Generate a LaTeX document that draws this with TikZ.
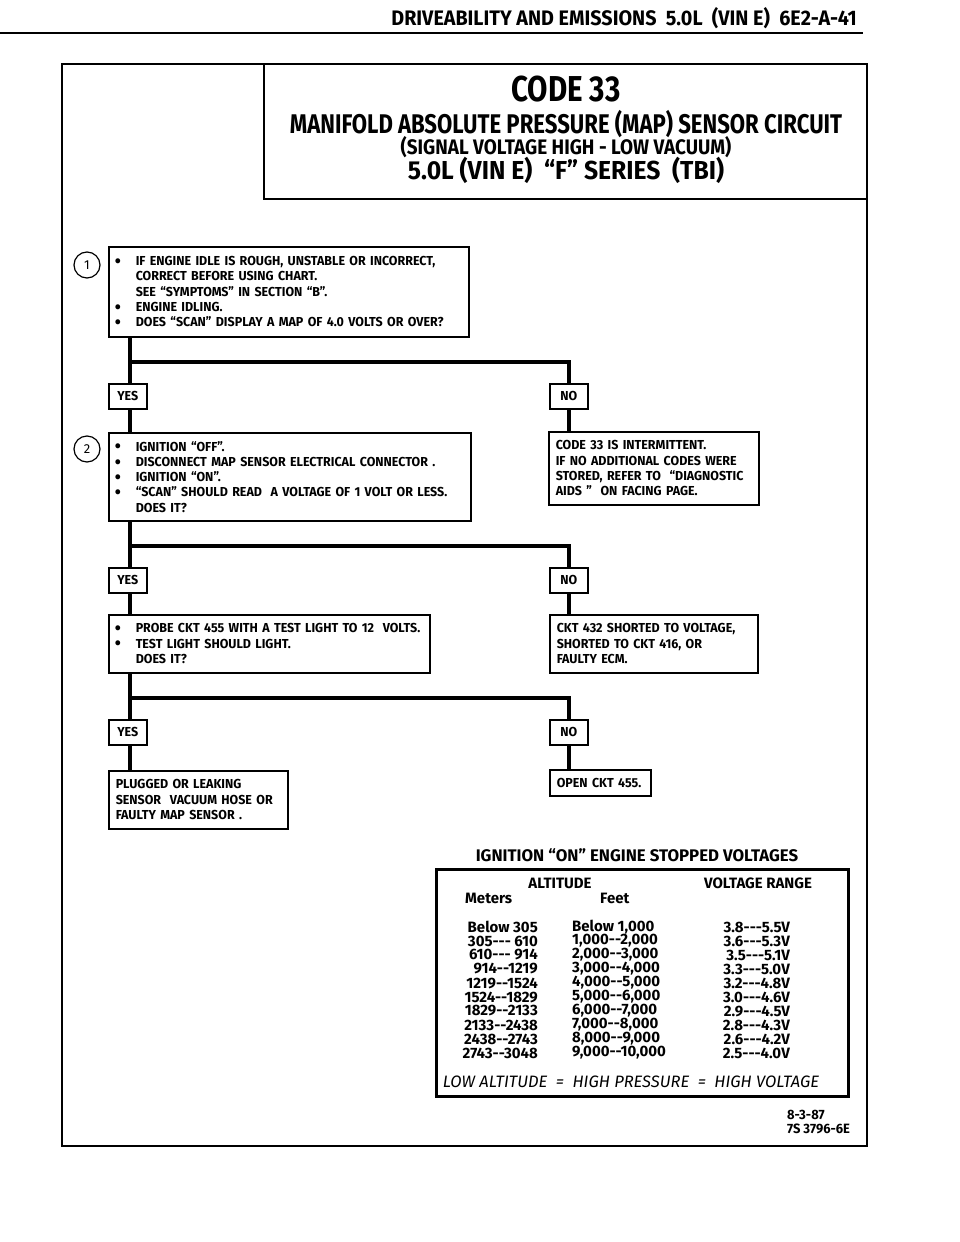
\documentclass[tikz,border=0pt]{standalone}
\usepackage{fontspec}
\setmainfont{Fira Sans}
\newfontfamily\condf{Fira Sans}[FakeStretch=0.82]
\newfontfamily\sigf{Fira Sans}[FakeStretch=0.9]
\newfontfamily\vinf{Fira Sans}[FakeStretch=0.95]
\newfontfamily\hdrf{Fira Sans}[FakeStretch=0.94]
\newfontfamily\semif{Fira Sans}[FakeStretch=0.96]
\newfontfamily\tabf{Fira Sans}
\newcommand\bul{\makebox[21pt][l]{\smash{\raisebox{-0.13em}{\scalebox{1.4}{\textbullet}}}}}
\newcommand\ind{\hspace*{21pt}}
\newcommand\dd{-\kern0pt-}
\newcommand\ddd{-\kern0pt-\kern0pt-}
\tikzset{
  frame/.style={line width=2.4pt},
  box/.style={draw, line width=1.5pt, anchor=north west, inner xsep=6pt, inner ysep=0pt, align=left,
    font=\semif\bfseries\fontsize{13}{15.3}\selectfont},
  lbl/.style={draw, line width=1.5pt, anchor=north west, minimum width=38pt, minimum height=25pt, inner sep=0pt,
    font=\semif\bfseries\fontsize{13}{14}\selectfont},
  trunk/.style={line width=3.8pt},
  num/.style={draw, circle, line width=1.2pt, minimum size=26pt, inner sep=0pt, font=\fontsize{13}{14}\selectfont},
  ttl/.style={anchor=center, inner sep=0pt},
  tb/.style={inner sep=0pt, font=\tabf\bfseries\fontsize{15}{15}\selectfont},
}
\begin{document}
\begin{tikzpicture}[x=1pt,y=-1pt]
\useasboundingbox[fill=white] (0,0) rectangle (960,1242);
% header
\node[anchor=base east, inner sep=0pt, font=\hdrf\bfseries\fontsize{21}{22}\selectfont] (hdr) at (857,25) {DRIVEABILITY AND EMISSIONS\ \ 5.0L\ \ (VIN E)\ \ 6E2-A-41};
\draw[line width=2.4pt] (0,33) -- (863,33);
% frame and title box
\draw[frame] (62,64) rectangle (867,1146);
\draw[line width=1.6pt] (264,64) -- (264,199) -- (867,199);
\node[ttl, font=\condf\bfseries\fontsize{36}{40}\selectfont] (t1) at (566,89) {CODE 33};
\node[ttl, font=\condf\bfseries\fontsize{27}{29}\selectfont] (t2) at (566,124) {MANIFOLD ABSOLUTE PRESSURE (MAP) SENSOR CIRCUIT};
\node[ttl, font=\sigf\bfseries\fontsize{21}{22}\selectfont] (t3) at (566,147) {(SIGNAL VOLTAGE HIGH - LOW VACUUM)};
\node[ttl, font=\vinf\bfseries\fontsize{26}{28}\selectfont] (t4) at (566,170) {5.0L (VIN E)\ \ “F” SERIES\ \ (TBI)};
% step 1
\node[num] (c1) at (87,265) {1};
\node[box, minimum width=360pt, minimum height=90pt, text width=348pt] (s1) at (108,246) {%
\bul IF ENGINE IDLE IS ROUGH, UNSTABLE OR INCORRECT,\\
\ind CORRECT BEFORE USING CHART.\\
\ind SEE “SYMPTOMS” IN SECTION “B”.\\
\bul ENGINE IDLING.\\
\bul DOES “SCAN” DISPLAY A MAP OF 4.0 VOLTS OR OVER?};
\coordinate (j1) at (130,362);
\node[lbl] (y1) at (108,383) {YES};
\node[lbl] (n1) at (549,383) {NO};
% step 2
\node[num] (c2) at (87,449) {2};
\node[box, minimum width=362pt, minimum height=88pt, text width=350pt] (s2) at (108,432) {%
\bul IGNITION “OFF”.\\
\bul DISCONNECT MAP SENSOR ELECTRICAL CONNECTOR .\\
\bul IGNITION “ON”.\\
\bul “SCAN” SHOULD READ\ \ A VOLTAGE OF 1 VOLT OR LESS.\\
\ind DOES IT?};
\node[box, inner xsep=7pt, minimum width=210pt, minimum height=73pt, text width=196pt] (r1) at (548,431) {%
CODE 33 IS INTERMITTENT.\\
IF NO ADDITIONAL CODES WERE\\
STORED, REFER TO\ \ “DIAGNOSTIC\\
AIDS ”\ \ ON FACING PAGE.};
\coordinate (j2) at (130,546);
\node[lbl] (y2) at (108,567) {YES};
\node[lbl] (n2) at (549,567) {NO};
% step 3
\node[box, minimum width=321pt, minimum height=58pt, text width=309pt] (s3) at (108,614) {%
\bul PROBE CKT 455 WITH A TEST LIGHT TO 12\ \ VOLTS.\\
\bul TEST LIGHT SHOULD LIGHT.\\
\ind DOES IT?};
\node[box, inner xsep=7pt, minimum width=208pt, minimum height=58pt, text width=194pt] (r2) at (549,614) {%
CKT 432 SHORTED TO VOLTAGE,\\
SHORTED TO CKT 416, OR\\
FAULTY ECM.};
\coordinate (j3) at (130,698);
\node[lbl] (y3) at (108,719) {YES};
\node[lbl] (n3) at (549,719) {NO};
% results
\node[box, inner xsep=7pt, minimum width=179pt, minimum height=58pt, text width=165pt] (r3) at (108,770) {%
PLUGGED OR LEAKING\\
SENSOR\ \ VACUUM HOSE OR\\
FAULTY MAP SENSOR .};
\node[box, inner xsep=7pt, minimum width=101pt, minimum height=26pt, text width=87pt] (r4) at (549,769) {OPEN CKT 455.};
% connectors
\draw[trunk] (s1.south -| j1) -- (j1) -- (j1 -| n1) -- (n1.north);
\draw[trunk] (j1) -- (y1.north -| j1);
\draw[trunk] (y1.south -| j1) -- (s2.north -| j1);
\draw[trunk] (n1.south) -- (r1.north -| n1);
\draw[trunk] (s2.south -| j2) -- (j2) -- (j2 -| n2) -- (n2.north);
\draw[trunk] (j2) -- (y2.north -| j2);
\draw[trunk] (y2.south -| j2) -- (s3.north -| j2);
\draw[trunk] (n2.south) -- (r2.north -| n2);
\draw[trunk] (s3.south -| j3) -- (j3) -- (j3 -| n3) -- (n3.north);
\draw[trunk] (j3) -- (y3.north -| j3);
\draw[trunk] (y3.south -| j3) -- (r3.north -| j3);
\draw[trunk] (n3.south) -- (r4.north -| n3);
% table
\node[tb, font=\tabf\bfseries\fontsize{16.8}{18}\selectfont] (tt) at (637,855) {IGNITION “ON” ENGINE STOPPED VOLTAGES};
\node[draw, line width=2.6pt, anchor=north west, minimum width=412pt, minimum height=227pt, inner sep=0pt] (tbl) at (435,868) {};
\node[tb] (h1) at (560,883) {ALTITUDE};
\node[tb] (h2) at (758,883) {VOLTAGE RANGE};
\node[tb, anchor=west] (h3) at (465,898) {Meters};
\node[tb, anchor=west] (h4) at (600,898) {Feet};
\foreach \m/\f/\v [count=\i from 0] in {
  {Below 305}/{Below 1,000}/{3.8\ddd5.5V},
  {305\ddd\ 610}/{1,000\dd2,000}/{3.6\ddd5.3V},
  {610\ddd\ 914}/{2,000\dd3,000}/{3.5\ddd5.1V},
  {914\dd1219}/{3,000\dd4,000}/{3.3\ddd5.0V},
  {1219\dd1524}/{4,000\dd5,000}/{3.2\ddd4.8V},
  {1524\dd1829}/{5,000\dd6,000}/{3.0\ddd4.6V},
  {1829\dd2133}/{6,000\dd7,000}/{2.9\ddd4.5V},
  {2133\dd2438}/{7,000\dd8,000}/{2.8\ddd4.3V},
  {2438\dd2743}/{8,000\dd9,000}/{2.6\ddd4.2V},
  {2743\dd3048}/{9,000\dd10,000}/{2.5\ddd4.0V}}{
  \node[tb, anchor=east] (m\i) at (538,927+14*\i) {\m};
  \node[tb, anchor=west] (f\i) at (572,927+14*\i) {\f};
  \node[tb, anchor=east] (v\i) at (790,927+14*\i) {\v};
}
\node[inner sep=0pt, font=\tabf\itshape\fontsize{16.5}{17}\selectfont] (low) at (631,1082) {LOW ALTITUDE\ \ =\ \ HIGH PRESSURE\ \ =\ \ HIGH VOLTAGE};
% footer
\node[anchor=west, inner sep=0pt, font=\semif\bfseries\fontsize{13.5}{14}\selectfont] (d1) at (787,1115) {8-3-87};
\node[anchor=west, inner sep=0pt, font=\semif\bfseries\fontsize{13.5}{14}\selectfont] (d2) at (787,1129) {7S 3796-6E};
\end{tikzpicture}
\end{document}
